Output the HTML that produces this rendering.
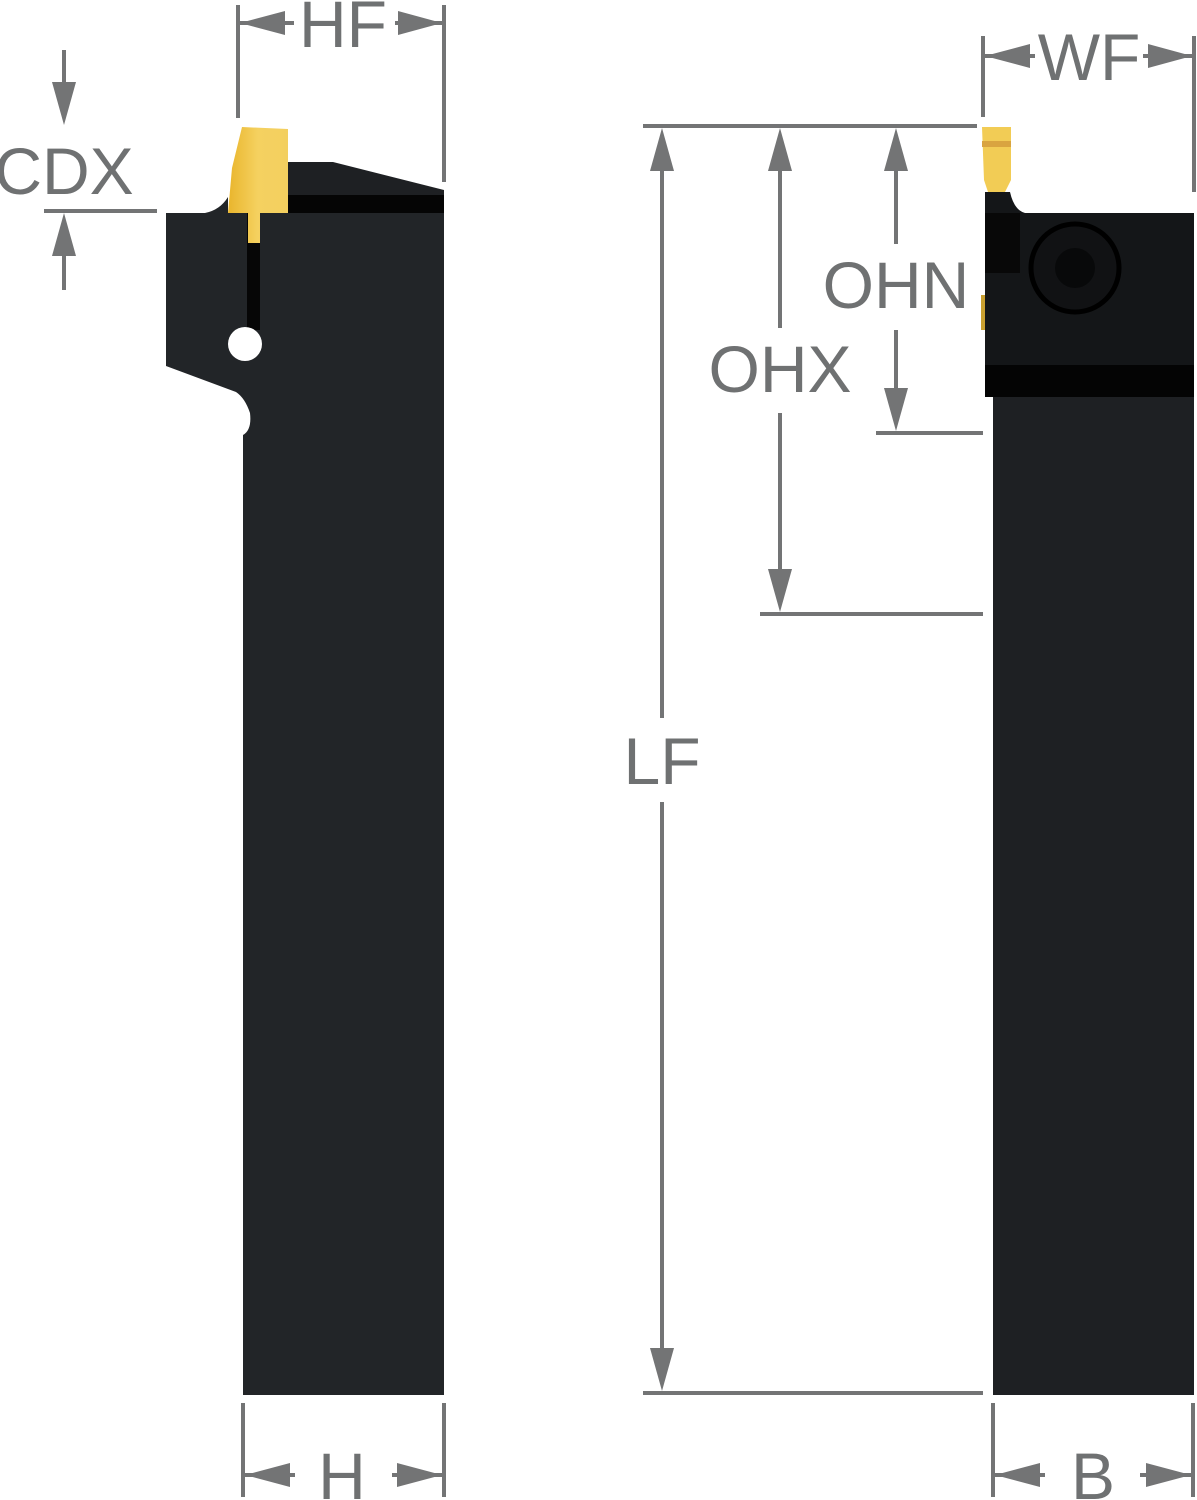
<!DOCTYPE html>
<html><head><meta charset="utf-8"><style>
html,body{margin:0;padding:0;background:#fff;}
svg{display:block;}
text{font-family:"Liberation Sans",Arial,sans-serif;fill:#6f7172;font-size:66px;}
</style></head><body>
<svg width="1197" height="1500" viewBox="0 0 1197 1500" xmlns="http://www.w3.org/2000/svg">
<defs>
<linearGradient id="gold" x1="0" x2="1" y1="0" y2="0">
<stop offset="0" stop-color="#e9b52c"/><stop offset="0.5" stop-color="#f5d160"/><stop offset="1" stop-color="#f3cf5f"/>
</linearGradient>
</defs>
<!-- LEFT TOOL -->
<path d="M288,162 L333,162 L444,190 L444,213 L288,213 Z" fill="#1e2023"/>
<rect x="288" y="195" width="156" height="18" fill="#050505"/>
<path d="M166,213 L205,213 Q220,210 228,197 L228,213 Z" fill="#222528"/>
<path d="M166,213 L444,213 L444,1395 L243,1395 L243,435 Q252,430 250,413 Q245,398 236,392 L166,366 Z" fill="#222528"/>
<rect x="247" y="213" width="13" height="117" fill="#060606"/>
<path d="M242,127 L288,129 L288,213 L260,213 L260,243 L248,243 L248,213 L228,213 L232,168 Z" fill="url(#gold)"/>
<circle cx="245" cy="344" r="17" fill="#fff"/>
<!-- RIGHT TOOL -->
<path d="M982,127 L1011,127 L1011,180 L1005,192 L988,192 L984,180 Z" fill="#f2cc55"/>
<rect x="982" y="141" width="29" height="6" fill="#d9a440"/>
<path d="M985,192 L1010,192 Q1014,210 1025,213 L1194,213 L1194,1395 L993,1395 L993,395 Q985,390 985,380 Z" fill="#141618"/>
<rect x="985" y="213" width="35" height="60" fill="#080808"/>
<rect x="985" y="365" width="209" height="32" fill="#040404"/>
<rect x="993" y="397" width="201" height="998" fill="#1e2023"/>
<circle cx="1075" cy="268" r="44" fill="#111214" stroke="#000" stroke-width="5"/>
<circle cx="1075" cy="268" r="20" fill="#08090a"/>
<rect x="981" y="295" width="4" height="35" fill="#c9a030"/>
<!-- DIMENSIONS -->
<g stroke="#737475" stroke-width="4" fill="none">
<line x1="238" y1="5" x2="238" y2="118"/><line x1="444" y1="5" x2="444" y2="182"/>
<line x1="240" y1="23" x2="294" y2="23"/><line x1="395" y1="23" x2="442" y2="23"/>
<line x1="44" y1="211" x2="157" y2="211"/>
<line x1="64" y1="50" x2="64" y2="90"/><line x1="64" y1="250" x2="64" y2="290"/>
<line x1="983" y1="36" x2="983" y2="117"/><line x1="1194" y1="36" x2="1194" y2="192"/>
<line x1="985" y1="56" x2="1035" y2="56"/><line x1="1143" y1="56" x2="1192" y2="56"/>
<line x1="643" y1="126" x2="977" y2="126"/>
<line x1="643" y1="1393" x2="983" y2="1393"/>
<line x1="662" y1="160" x2="662" y2="718"/><line x1="662" y1="802" x2="662" y2="1360"/>
<line x1="780" y1="160" x2="780" y2="328"/><line x1="780" y1="413" x2="780" y2="580"/>
<line x1="760" y1="614" x2="983" y2="614"/>
<line x1="896" y1="160" x2="896" y2="244"/><line x1="896" y1="330" x2="896" y2="400"/>
<line x1="876" y1="433" x2="983" y2="433"/>
<line x1="243" y1="1403" x2="243" y2="1497"/><line x1="444" y1="1403" x2="444" y2="1497"/>
<line x1="245" y1="1475" x2="295" y2="1475"/><line x1="392" y1="1475" x2="442" y2="1475"/>
<line x1="993" y1="1403" x2="993" y2="1497"/><line x1="1193" y1="1403" x2="1193" y2="1497"/>
<line x1="995" y1="1475" x2="1045" y2="1475"/><line x1="1140" y1="1475" x2="1191" y2="1475"/>
</g>
<g fill="#737475">
<path d="M240,23 L285,11 L285,35 Z"/><path d="M442,23 L398,11 L398,35 Z"/>
<path d="M64,125 L52,82 L76,82 Z"/><path d="M64,213 L52,256 L76,256 Z"/>
<path d="M985,56 L1030,44 L1030,68 Z"/><path d="M1192,56 L1148,44 L1148,68 Z"/>
<path d="M662,128 L650,171 L674,171 Z"/><path d="M662,1391 L650,1348 L674,1348 Z"/>
<path d="M780,128 L768,171 L792,171 Z"/><path d="M780,612 L768,569 L792,569 Z"/>
<path d="M896,128 L884,171 L908,171 Z"/><path d="M896,431 L884,388 L908,388 Z"/>
<path d="M245,1475 L290,1463 L290,1487 Z"/><path d="M442,1475 L397,1463 L397,1487 Z"/>
<path d="M995,1475 L1040,1463 L1040,1487 Z"/><path d="M1191,1475 L1146,1463 L1146,1487 Z"/>
</g>
<text x="343" y="47" text-anchor="middle">HF</text>
<text x="64" y="194" text-anchor="middle">CDX</text>
<text x="1089" y="80" text-anchor="middle">WF</text>
<text x="896" y="308" text-anchor="middle">OHN</text>
<text x="780" y="392" text-anchor="middle">OHX</text>
<text x="662" y="784" text-anchor="middle">LF</text>
<text x="342" y="1499" text-anchor="middle">H</text>
<text x="1093" y="1499" text-anchor="middle">B</text>
</svg>
</body></html>
